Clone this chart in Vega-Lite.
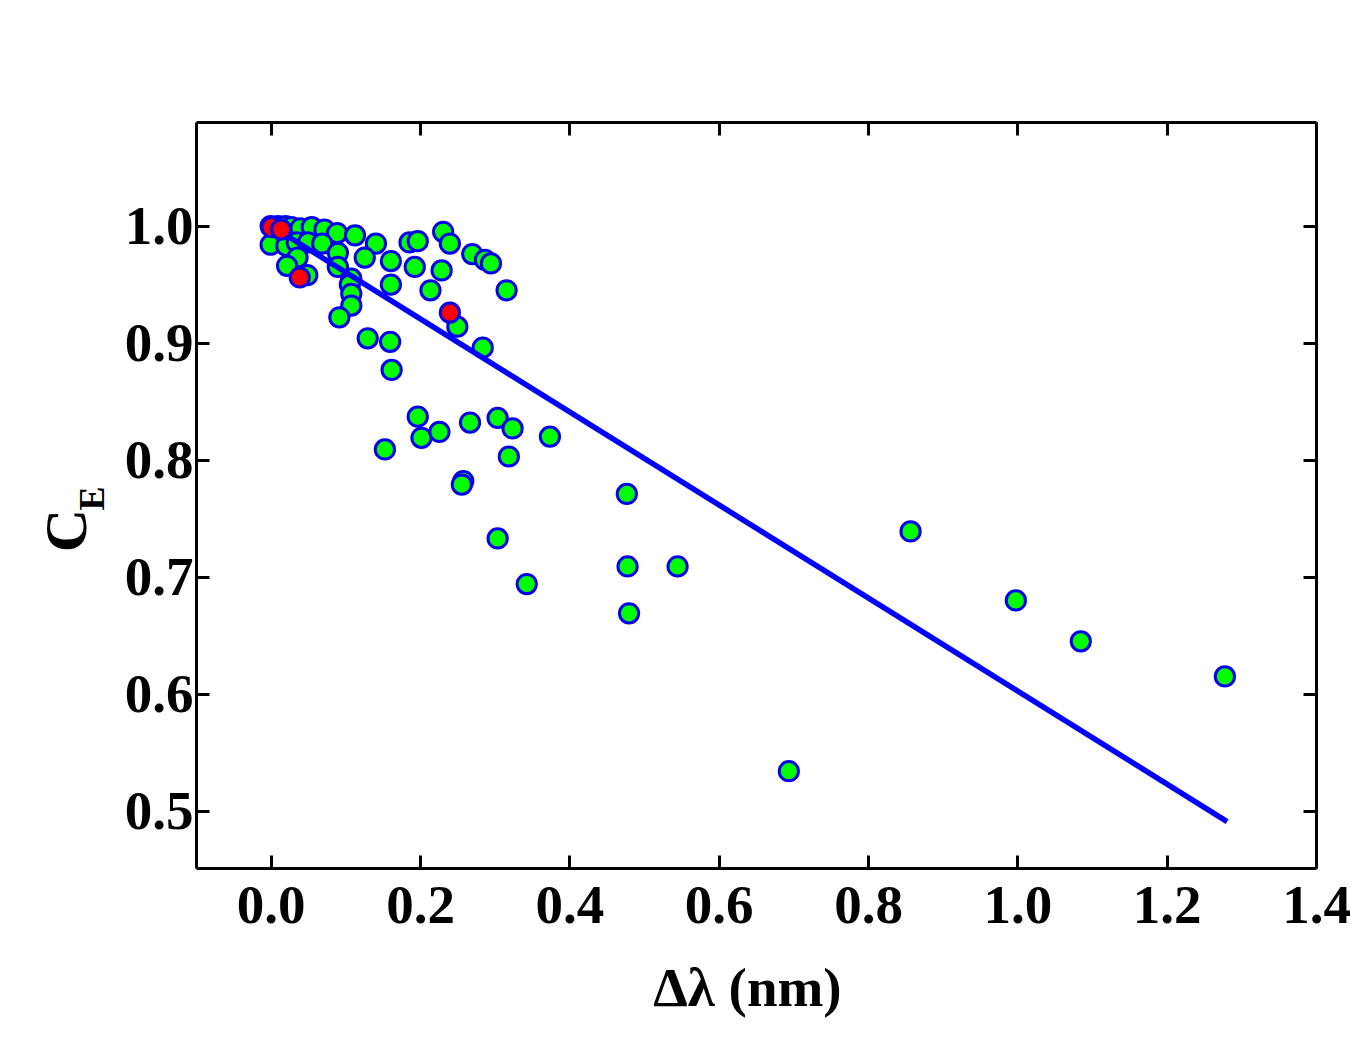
{
  "$schema": "https://vega.github.io/schema/vega-lite/v6.json",
  "description": "C_E versus delta lambda scatter with linear fit",
  "autosize": "none",
  "width": 1120,
  "height": 746,
  "padding": {"left": 196, "top": 122, "right": 34, "bottom": 176},
  "background": "white",
  "datasets": {
    "green": [
      {"dl": 0.000, "ce": 1.000}, {"dl": 0.004, "ce": 0.999}, {"dl": 0.010, "ce": 1.000},
      {"dl": 0.020, "ce": 1.000}, {"dl": 0.028, "ce": 0.999}, {"dl": 0.040, "ce": 0.998},
      {"dl": 0.055, "ce": 0.999}, {"dl": 0.072, "ce": 0.997}, {"dl": 0.089, "ce": 0.994},
      {"dl": 0.113, "ce": 0.992}, {"dl": 0.141, "ce": 0.985}, {"dl": 0.000, "ce": 0.984},
      {"dl": 0.021, "ce": 0.983}, {"dl": 0.035, "ce": 0.986}, {"dl": 0.050, "ce": 0.986},
      {"dl": 0.069, "ce": 0.985}, {"dl": 0.036, "ce": 0.973}, {"dl": 0.022, "ce": 0.966},
      {"dl": 0.049, "ce": 0.958}, {"dl": 0.090, "ce": 0.977}, {"dl": 0.090, "ce": 0.965},
      {"dl": 0.126, "ce": 0.973}, {"dl": 0.161, "ce": 0.970}, {"dl": 0.161, "ce": 0.950},
      {"dl": 0.108, "ce": 0.955}, {"dl": 0.106, "ce": 0.950}, {"dl": 0.108, "ce": 0.942},
      {"dl": 0.108, "ce": 0.932}, {"dl": 0.092, "ce": 0.922}, {"dl": 0.130, "ce": 0.904},
      {"dl": 0.160, "ce": 0.901}, {"dl": 0.162, "ce": 0.877}, {"dl": 0.186, "ce": 0.986},
      {"dl": 0.197, "ce": 0.987}, {"dl": 0.193, "ce": 0.965}, {"dl": 0.214, "ce": 0.945},
      {"dl": 0.229, "ce": 0.962}, {"dl": 0.231, "ce": 0.995}, {"dl": 0.240, "ce": 0.985},
      {"dl": 0.250, "ce": 0.914}, {"dl": 0.270, "ce": 0.976}, {"dl": 0.287, "ce": 0.971},
      {"dl": 0.295, "ce": 0.968}, {"dl": 0.284, "ce": 0.896}, {"dl": 0.316, "ce": 0.945},
      {"dl": 0.153, "ce": 0.809}, {"dl": 0.197, "ce": 0.837}, {"dl": 0.202, "ce": 0.819},
      {"dl": 0.226, "ce": 0.824}, {"dl": 0.267, "ce": 0.832}, {"dl": 0.304, "ce": 0.836},
      {"dl": 0.324, "ce": 0.827}, {"dl": 0.319, "ce": 0.803}, {"dl": 0.374, "ce": 0.820},
      {"dl": 0.258, "ce": 0.782}, {"dl": 0.256, "ce": 0.779}, {"dl": 0.304, "ce": 0.733},
      {"dl": 0.343, "ce": 0.694}, {"dl": 0.477, "ce": 0.771}, {"dl": 0.478, "ce": 0.709},
      {"dl": 0.480, "ce": 0.669}, {"dl": 0.545, "ce": 0.709}, {"dl": 0.694, "ce": 0.534},
      {"dl": 0.857, "ce": 0.739}, {"dl": 0.998, "ce": 0.680}, {"dl": 1.085, "ce": 0.645},
      {"dl": 1.278, "ce": 0.615}
    ],
    "red": [
      {"dl": 0.001, "ce": 0.999}, {"dl": 0.014, "ce": 0.997},
      {"dl": 0.039, "ce": 0.956}, {"dl": 0.240, "ce": 0.926}
    ],
    "fit": [
      {"dl": 0.016, "ce": 0.994},
      {"dl": 1.281, "ce": 0.491}
    ]
  },
  "layer": [
    {
      "data": {"name": "green"},
      "mark": {"type": "point", "shape": "circle", "filled": false, "fill": "#00ff00", "fillOpacity": 1, "stroke": "#0000ee", "strokeWidth": 3, "opacity": 1, "size": 370},
      "encoding": {
        "x": {
          "field": "dl", "type": "quantitative",
          "scale": {"domain": [-0.1, 1.4], "nice": false, "zero": false},
          "axis": {
            "orient": "bottom", "title": "Δλ (nm)", "values": [0, 0.2, 0.4, 0.6, 0.8, 1.0, 1.2, 1.4],
            "format": ".1f", "labelPadding": 24, "titleFontSize": 55,
            "titleBaseline": "alphabetic", "titleX": 551, "titleY": 137
          }
        },
        "y": {
          "field": "ce", "type": "quantitative",
          "scale": {"domain": [0.4513, 1.0889], "nice": false, "zero": false},
          "axis": {
            "orient": "left", "title": "C", "values": [0.5, 0.6, 0.7, 0.8, 0.9, 1.0],
            "format": ".1f", "labelPadding": 16, "titleFontSize": 60, "titleAngle": -90,
            "titleBaseline": "alphabetic", "titleAlign": "center", "titleX": -111, "titleY": 408
          }
        }
      }
    },
    {
      "data": {"name": "fit"},
      "mark": {"type": "line", "color": "#0000ff", "strokeWidth": 5.5},
      "encoding": {
        "x": {
          "field": "dl", "type": "quantitative",
          "axis": {"orient": "top", "title": null, "labels": false, "values": [0, 0.2, 0.4, 0.6, 0.8, 1.0, 1.2, 1.4]}
        },
        "y": {
          "field": "ce", "type": "quantitative",
          "axis": {
            "orient": "right", "title": "E", "labels": false, "values": [0.5, 0.6, 0.7, 0.8, 0.9, 1.0],
            "titleAngle": -90, "titleBaseline": "alphabetic", "titleAlign": "center",
            "titleFontSize": 36, "titleX": -1213, "titleY": 376
          }
        }
      }
    },
    {
      "data": {"name": "red"},
      "mark": {"type": "point", "shape": "circle", "filled": false, "fill": "#ff0000", "fillOpacity": 1, "stroke": "#0000ee", "strokeWidth": 3, "opacity": 1, "size": 370},
      "encoding": {
        "x": {"field": "dl", "type": "quantitative", "axis": null},
        "y": {"field": "ce", "type": "quantitative", "axis": null}
      }
    }
  ],
  "config": {
    "view": {"stroke": null},
    "font": "Liberation Serif",
    "axis": {
      "domainColor": "black", "domainWidth": 3,
      "tickColor": "black", "tickWidth": 3, "tickSize": -13,
      "grid": false,
      "labelFont": "Liberation Serif", "labelFontSize": 55, "labelFontWeight": "bold",
      "labelColor": "black", "labelFlush": false, "labelOverlap": false,
      "titleFont": "Liberation Serif", "titleFontWeight": "bold",
      "titleColor": "black"
    }
  }
}
